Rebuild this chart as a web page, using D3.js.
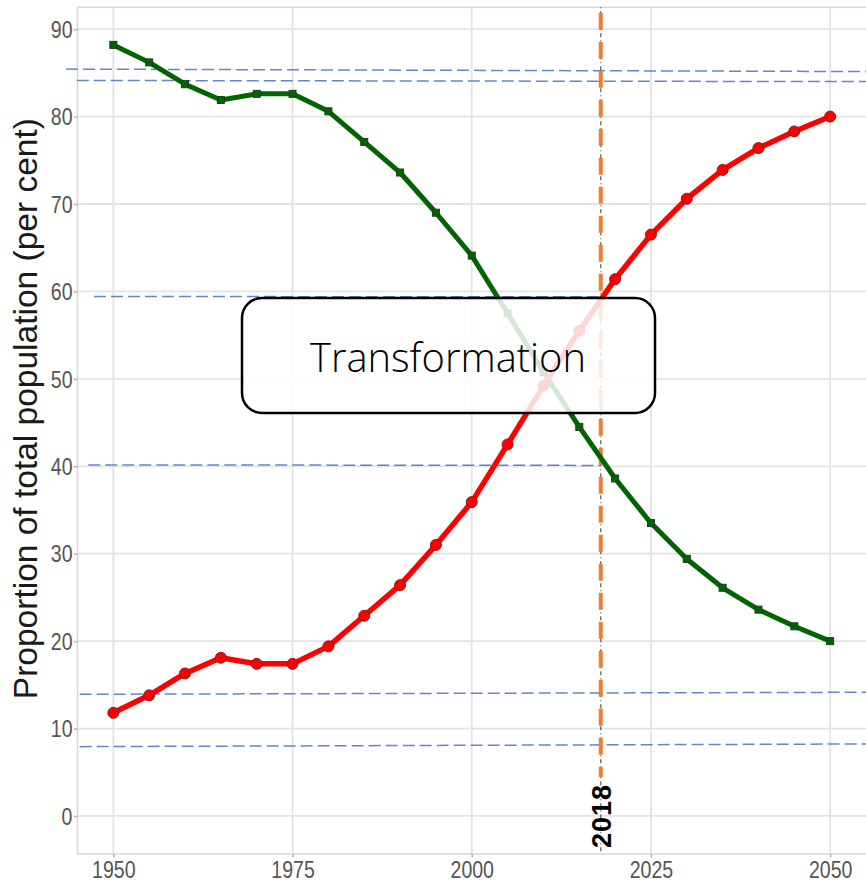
<!DOCTYPE html>
<html>
<head>
<meta charset="utf-8">
<script src="https://cdn.jsdelivr.net/npm/d3@7"></script>
<style>
  body { margin: 0; background: #fff; }
  svg { display: block; }
</style>
</head>
<body>
<script>
// Proportion of total population, 1950-2050
const years = [1950, 1955, 1960, 1965, 1970, 1975, 1980, 1985, 1990, 1995, 2000,
               2005, 2010, 2015, 2020, 2025, 2030, 2035, 2040, 2045, 2050];
const rural = [88.2, 86.2, 83.7, 81.9, 82.6, 82.6, 80.6, 77.1, 73.6, 69.0, 64.1,
               57.5, 50.8, 44.5, 38.6, 33.5, 29.4, 26.1, 23.6, 21.7, 20.0];
const urban = [11.8, 13.8, 16.3, 18.1, 17.4, 17.4, 19.4, 22.9, 26.4, 31.0, 35.9,
               42.5, 49.2, 55.5, 61.4, 66.5, 70.6, 73.9, 76.4, 78.3, 80.0];

const xTicks = [1950, 1975, 2000, 2025, 2050];
const yTicks = [0, 10, 20, 30, 40, 50, 60, 70, 80, 90];
const markYear = 2018;

// hand-drawn guide lines: [year1, value1, year2, value2]
const guides = [
  [1943.4, 85.43, 2055.1, 85.15],
  [1944.9, 84.13, 2055.1, 84.0],
  [1947.3, 59.42, 2018, 59.38],
  [1946.5, 40.16, 2018, 40.1],
  [1945.3, 13.92, 2055.1, 14.15],
  [1945.3, 7.93, 2055.1, 8.24]
];

const width = 866, height = 885;
const panel = { left: 77.5, right: 866, top: 7.3, bottom: 854 };

const svg = d3.select('body').append('svg')
    .attr('width', width)
    .attr('height', height);

const x = d3.scaleLinear().domain([1945, 2055]).range([panel.left, panel.right]);
const y = d3.scaleLinear().domain([-4.35, 92.5]).range([panel.bottom, panel.top]);

// grid
const grid = svg.append('g');
grid.selectAll('line.h')
    .data(yTicks)
    .join('line')
    .attr('x1', panel.left).attr('x2', panel.right)
    .attr('y1', d => y(d)).attr('y2', d => y(d))
    .style('stroke', '#e3e3e3').style('stroke-width', 1.8);
grid.selectAll('line.v')
    .data(xTicks)
    .join('line')
    .attr('x1', d => x(d)).attr('x2', d => x(d))
    .attr('y1', panel.top).attr('y2', panel.bottom)
    .style('stroke', '#e3e3e3').style('stroke-width', 1.8);

svg.append('rect')
    .attr('x', panel.left).attr('y', panel.top)
    .attr('width', panel.right - panel.left + 2)
    .attr('height', panel.bottom - panel.top)
    .style('fill', 'none').style('stroke', '#d9d9d9').style('stroke-width', 1.6);

// axes
const xAxis = svg.append('g')
    .attr('transform', `translate(0,${panel.bottom})`)
    .call(d3.axisBottom(x).tickValues(xTicks).tickSize(3.5).tickFormat(d3.format('d')));
const yAxis = svg.append('g')
    .attr('transform', `translate(${panel.left},0)`)
    .call(d3.axisLeft(y).tickValues(yTicks).tickSize(3.5));
[xAxis, yAxis].forEach(a => {
    a.select('.domain').remove();
    a.selectAll('.tick line').style('stroke', '#b3b3b3').style('stroke-width', 1.5);
    a.selectAll('.tick text')
        .style('font-family', '"Liberation Sans", Arial, sans-serif')
        .style('font-size', '23px')
        .style('fill', '#555');
});
xAxis.selectAll('.tick text')
    .attr('y', 0).attr('dy', 0)
    .attr('transform', 'translate(0,24) scale(0.85,1)');
yAxis.selectAll('.tick text')
    .attr('x', 0).attr('dy', '0.36em')
    .attr('transform', 'translate(-5,0) scale(0.85,1)');

svg.append('text')
    .attr('transform', `translate(37,${(panel.top + panel.bottom) / 2 - 22}) rotate(-90)`)
    .attr('text-anchor', 'middle')
    .style('font-family', '"Liberation Sans", Arial, sans-serif')
    .style('font-size', '33.5px')
    .style('fill', '#1a1a1a')
    .text('Proportion of total population (per cent)');

// blue guide lines
svg.append('g').selectAll('line')
    .data(guides)
    .join('line')
    .attr('x1', d => x(d[0])).attr('y1', d => y(d[1]))
    .attr('x2', d => x(d[2])).attr('y2', d => y(d[3]))
    .style('stroke', '#4472c4').style('stroke-opacity', 0.85)
    .style('stroke-width', 1.5).style('stroke-dasharray', '12,5');

// 2018 marker lines
svg.append('line')
    .attr('x1', x(markYear)).attr('x2', x(markYear))
    .attr('y1', panel.top).attr('y2', panel.bottom)
    .style('stroke', '#555').style('stroke-width', 1.2)
    .style('stroke-dasharray', '1,3,4,3');
svg.append('line')
    .attr('x1', x(markYear)).attr('x2', x(markYear))
    .attr('y1', 12.7).attr('y2', 777)
    .style('stroke', '#ed7d31').style('stroke-width', 4)
    .style('stroke-dasharray', '17,12');

// series
const ruralData = years.map((yr, i) => ({ year: yr, value: rural[i] }));
const urbanData = years.map((yr, i) => ({ year: yr, value: urban[i] }));
const line = d3.line().x(d => x(d.year)).y(d => y(d.value));

svg.append('path')
    .datum(ruralData)
    .attr('d', line)
    .style('fill', 'none').style('stroke', '#006400').style('stroke-width', 5)
    .style('stroke-linejoin', 'round');
svg.append('g').selectAll('rect')
    .data(ruralData)
    .join('rect')
    .attr('x', d => x(d.year) - 3.5).attr('y', d => y(d.value) - 3.5)
    .attr('width', 7).attr('height', 7)
    .style('fill', '#006400').style('stroke', '#1f3f1f').style('stroke-width', 1);

svg.append('path')
    .datum(urbanData)
    .attr('d', line)
    .style('fill', 'none').style('stroke', '#ff0000').style('stroke-width', 5.5)
    .style('stroke-linejoin', 'round');
svg.append('g').selectAll('circle')
    .data(urbanData)
    .join('circle')
    .attr('cx', d => x(d.year)).attr('cy', d => y(d.value))
    .attr('r', 5.5)
    .style('fill', '#ff0000').style('stroke', '#8b1a1a').style('stroke-width', 1);

// annotation box
svg.append('rect')
    .attr('x', 242).attr('y', 298)
    .attr('width', 413).attr('height', 115)
    .attr('rx', 20).attr('ry', 20)
    .style('fill', '#fff').style('fill-opacity', 0.84)
    .style('stroke', '#000').style('stroke-width', 2.5);
svg.append('text')
    .attr('x', 448).attr('y', 372)
    .attr('text-anchor', 'middle')
    .attr('textLength', 276).attr('lengthAdjust', 'spacingAndGlyphs')
    .style('font-family', '"Open Sans", "Noto Sans", sans-serif')
    .style('font-weight', 300)
    .style('font-size', '41px')
    .style('fill', '#000')
    .text('Transformation');

// 2018 label
svg.append('text')
    .attr('transform', `translate(${x(markYear) + 10},${y(0)}) rotate(-90)`)
    .attr('text-anchor', 'middle')
    .style('font-family', '"Liberation Sans", Arial, sans-serif')
    .style('font-weight', 'bold')
    .style('font-size', '27px')
    .style('letter-spacing', '1px')
    .style('fill', '#000')
    .text('2018');
</script>
</body>
</html>
